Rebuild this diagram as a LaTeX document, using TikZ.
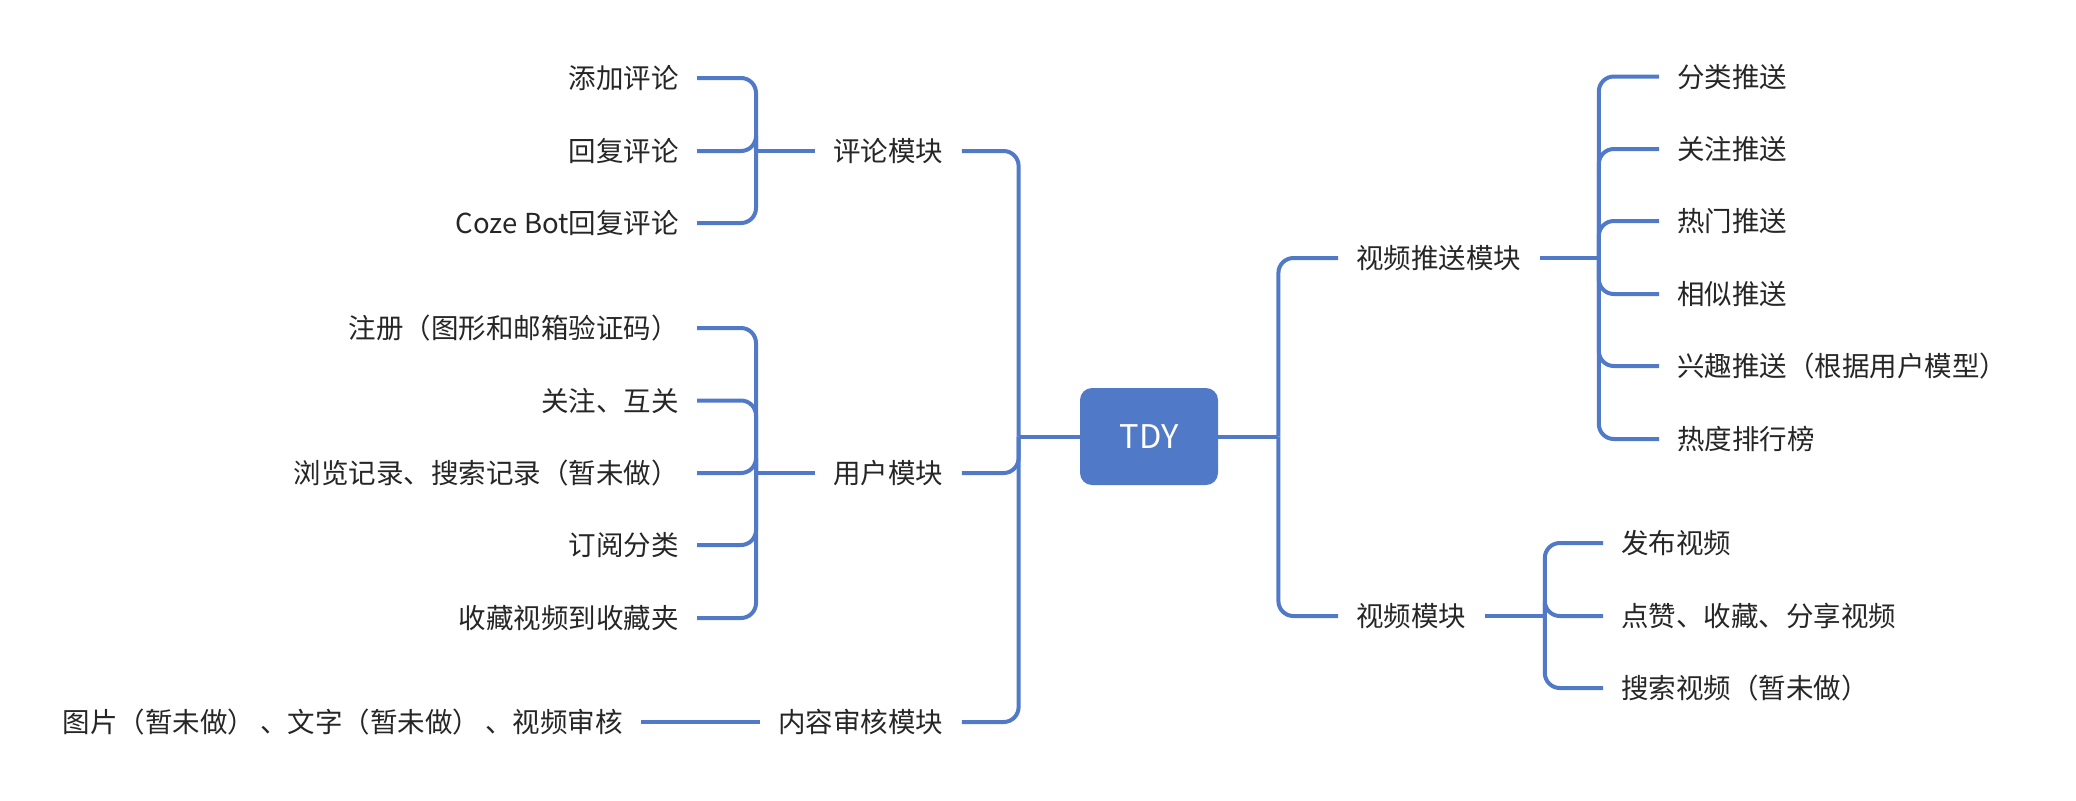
\documentclass[tikz,border=0pt]{standalone}
\usepackage{fontspec}
\setmainfont{Noto Sans CJK SC}
\usetikzlibrary{positioning, calc}
\definecolor{mapblue}{RGB}{80,122,200}
\definecolor{mapink}{RGB}{38,38,38}
\tikzset{
    topic/.style={inner xsep=9pt, inner ysep=0pt, text height=11.5pt, text depth=1pt,
      text=mapink, font=\fontsize{13.75}{16}\selectfont},
    root/.style={fill=mapblue, rounded corners=6pt, minimum width=69pt, minimum height=48.5pt,
      inner sep=0pt, text=white, font=\fontsize{16.3}{19}\selectfont},
    branch/.style={draw=mapblue, line width=2pt, rounded corners=7.5pt},
}

\begin{document}
\begin{tikzpicture}[x=0.5pt, y=-0.5pt]
    \useasboundingbox (0,0) rectangle (2076,800);

    \node[root] (tdy) at (1149,436.5) {TDY};

    \node[topic, anchor=west] (pl) at (815,151) {评论模块};
    \node[topic, anchor=west] (yh) at (815,473) {用户模块};
    \node[topic, anchor=west] (sh) at (760,722) {内容审核模块};

    \node[topic, anchor=east] (pl1) at (697,78) {添加评论};
    \node[topic, anchor=east] (pl2) at (697,151) {回复评论};
    \node[topic, anchor=east] (pl3) at (697,223) {Coze Bot回复评论};

    \node[topic, anchor=east] (yh1) at (697,328) {注册（图形和邮箱验证码）};
    \node[topic, anchor=east] (yh2) at (697,400.5) {关注、互关};
    \node[topic, anchor=east] (yh3) at (697,473) {浏览记录、搜索记录（暂未做）};
    \node[topic, anchor=east] (yh4) at (697,545) {订阅分类};
    \node[topic, anchor=east] (yh5) at (697,618) {收藏视频到收藏夹};

    \node[topic, anchor=east] (sh1) at (641,722) {图片（暂未做）\kern2.5pt、文字（暂未做）\kern2.5pt、视频审核};

    \node[topic, anchor=west] (ts) at (1338,258) {视频推送模块};
    \node[topic, anchor=west] (sp) at (1338,616) {视频模块};

    \node[topic, anchor=west] (ts1) at (1659,76.5) {分类推送};
    \node[topic, anchor=west] (ts2) at (1659,149) {关注推送};
    \node[topic, anchor=west] (ts3) at (1659,221) {热门推送};
    \node[topic, anchor=west] (ts4) at (1659,294) {相似推送};
    \node[topic, anchor=west] (ts5) at (1659,366) {兴趣推送（根据用户模型）};
    \node[topic, anchor=west] (ts6) at (1659,439) {热度排行榜};

    \node[topic, anchor=west] (sp1) at (1603,543) {发布视频};
    \node[topic, anchor=west] (sp2) at (1603,616) {点赞、收藏、分享视频};
    \node[topic, anchor=west] (sp3) at (1603,688) {搜索视频（暂未做）};

    \coordinate (tdyl) at ($(tdy.west)+(-61,0)$);
    \coordinate (tdyr) at ($(tdy.east)+(60,0)$);
    \coordinate (plj) at ($(pl.west)+(-59,0)$);
    \coordinate (yhj) at ($(yh.west)+(-59,0)$);
    \coordinate (tsj) at ($(ts.east)+(59,0)$);
    \coordinate (spj) at ($(sp.east)+(60,0)$);

    \draw[branch] (tdy.west) -- (tdyl);
    \draw[branch] (tdy.east) -- (tdyr);
    \foreach \m in {pl, yh, sh}
      \draw[branch] (tdyl) |- (\m.east);
    \foreach \m in {ts, sp}
      \draw[branch] (tdyr) |- (\m.west);

    \draw[branch] (pl.west) -- (plj);
    \foreach \c in {pl1, pl2, pl3}
      \draw[branch] (plj) |- (\c.east);
    \draw[branch] (yh.west) -- (yhj);
    \foreach \c in {yh1, yh2, yh3, yh4, yh5}
      \draw[branch] (yhj) |- (\c.east);
    \draw[branch] (sh.west) -- (sh1.east);

    \draw[branch] (ts.east) -- (tsj);
    \foreach \c in {ts1, ts2, ts3, ts4, ts5, ts6}
      \draw[branch] (tsj) |- (\c.west);
    \draw[branch] (sp.east) -- (spj);
    \foreach \c in {sp1, sp2, sp3}
      \draw[branch] (spj) |- (\c.west);

\end{tikzpicture}
\end{document}
